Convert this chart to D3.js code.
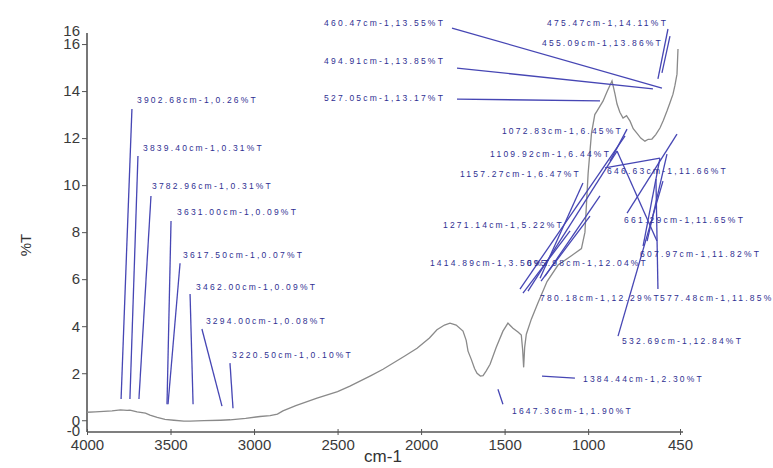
<!DOCTYPE html>
<html>
<head>
  <meta charset="UTF-8">
  <title>FTIR spectrum</title>
  <style>
    body{
        margin: 0;
        background-color: #ffffff;
    }
    .tick text{
        font-family: "Liberation Sans", Arial, sans-serif;
        font-size: 15px;
        fill: #3a3a3a;
    }
    .peak{
        font-family: "Liberation Sans", Arial, sans-serif;
        font-size: 8.5px;
        fill: #2f2f92;
    }
  </style>
</head>
<body>
<svg></svg>
<script src="https://d3js.org/d3.v7.min.js"></script>

<script>

// spectrum
const wavenumber = [4000, 3950, 3900, 3850, 3800, 3760, 3743, 3700, 3650, 3623, 3580, 3533, 3480, 3420, 3383,
    3300, 3200, 3144, 3050, 2964, 2904, 2860, 2827, 2750, 2623, 2500, 2426, 2300, 2228, 2100, 2024, 1950,
    1905, 1860, 1827, 1790, 1749, 1730, 1719, 1700, 1680, 1665, 1645, 1629, 1610, 1587, 1550, 1510, 1480,
    1450, 1420, 1400, 1392, 1386, 1380, 1370, 1340, 1300, 1246, 1180, 1100, 1040, 1019, 1000, 980, 960,
    947, 930, 911, 885, 857, 840, 827, 810, 791, 770, 749, 730, 707, 685, 660, 640, 618, 595, 570, 550,
    528, 510, 492, 480, 468, 462];
const transmittance = [0.34, 0.36, 0.38, 0.40, 0.44, 0.42, 0.43, 0.36, 0.30, 0.22, 0.12, 0.04, 0.00, -0.04, -0.04,
    -0.02, 0.00, 0.02, 0.08, 0.16, 0.20, 0.26, 0.40, 0.62, 0.94, 1.22, 1.45, 1.90, 2.17, 2.72, 3.06, 3.50,
    3.85, 4.05, 4.13, 4.05, 3.79, 3.40, 2.94, 2.60, 2.20, 2.00, 1.88, 1.90, 2.10, 2.38, 3.10, 3.79, 4.13,
    3.91, 3.75, 3.62, 3.00, 2.25, 3.10, 3.66, 4.30, 5.00, 5.90, 6.60, 7.00, 7.30, 8.00, 10.5, 12.2, 13.0,
    13.15, 13.35, 13.57, 14.00, 14.43, 13.90, 13.45, 13.10, 12.85, 12.95, 12.72, 12.40, 12.20, 12.00, 11.87, 11.95, 11.96, 12.15, 12.43, 12.75,
    13.15, 13.50, 13.87, 14.25, 14.72, 15.79];

const xTicks = [4000, 3500, 3000, 2500, 2000, 1500, 1000, 450];
const yTicks = [0, 2, 4, 6, 8, 10, 12, 14, 16];

// peak labels: text, anchor wavenumber, anchor %T
const labelText = ["3902.68cm-1,0.26%T", "3839.40cm-1,0.31%T", "3782.96cm-1,0.31%T", "3631.00cm-1,0.09%T",
    "3617.50cm-1,0.07%T", "3462.00cm-1,0.09%T", "3294.00cm-1,0.08%T", "3220.50cm-1,0.10%T",
    "460.47cm-1,13.55%T", "494.91cm-1,13.85%T", "527.05cm-1,13.17%T", "475.47cm-1,14.11%T",
    "455.09cm-1,13.86%T", "1072.83cm-1,6.45%T", "1109.92cm-1,6.44%T", "1157.27cm-1,6.47%T",
    "646.63cm-1,11.66%T", "1271.14cm-1,5.22%T", "661.29cm-1,11.65%T", "1414.89cm-1,3.50%T",
    "695.98cm-1,12.04%T", "607.97cm-1,11.82%T", "780.18cm-1,12.29%T", "577.48cm-1,11.85%T",
    "532.69cm-1,12.84%T", "1384.44cm-1,2.30%T", "1647.36cm-1,1.90%T"];
const labelCm = [3701, 3665, 3611, 3461, 3425, 3347, 3288, 3132,
    2581, 2581, 2581, 1246, 1276, 1516, 1587, 1767,
    887, 1869, 785, 1947, 1366, 689, 1288, 570,
    797, 1031, 1456];
const labelT = [13.62, 11.58, 9.96, 8.86, 7.03, 5.66, 4.22, 2.77,
    16.90, 15.28, 13.71, 16.90, 16.05, 12.30, 11.32, 10.47,
    10.60, 8.30, 8.51, 6.68, 6.68, 7.07, 5.20, 5.20,
    3.37, 1.75, 0.39];

// leader lines: [cm1, %T1, cm2, %T2]
const leaderLines = [
    [3731, 13.24, 3796, 0.90], [3695, 11.24, 3743, 0.90], [3617, 9.54, 3689, 0.90], [3497, 8.47, 3521, 0.68],
    [3443, 6.68, 3515, 0.68], [3383, 5.37, 3365, 0.68], [3312, 3.88, 3192, 0.60], [3144, 2.43, 3126, 0.51],
    [1815, 16.68, 558, 14.13], [1785, 14.98, 612, 14.09], [1785, 13.66, 929, 13.58], [522, 16.64, 582, 14.52],
    [510, 16.34, 558, 14.77], [779, 12.09, 1408, 5.58], [827, 11.45, 1360, 5.49], [1031, 10.09, 1288, 6.04],
    [899, 10.73, 570, 11.15], [929, 9.54, 1258, 6.13], [468, 12.17, 767, 8.81], [1108, 8.05, 1390, 5.41],
    [827, 11.45, 588, 7.62], [570, 11.15, 671, 7.41], [1282, 5.92, 989, 8.68], [582, 5.58, 594, 10.26],
    [821, 3.58, 552, 10.17], [1276, 1.88, 1079, 1.79], [1540, 1.32, 1510, 0.68],
    [528, 11.32, 647, 7.62], [869, 11.02, 767, 12.38]
];

let width = 773, height = 468;

let svg = d3.select("svg")
    .attr("width", width)
    .attr("height", height);

let x = d3.scaleLinear()
    .domain([4000, 450])
    .range([87, 680]);

let y = d3.scaleLinear()
    .domain([-0.5, 16.47])
    .range([432, 33]);

// axes
let gx = svg.append("g")
    .attr("transform", "translate(0," + y.range()[0] + ")")
    .call(d3.axisBottom(x).tickValues(xTicks).tickSize(3).tickPadding(4).tickFormat(d3.format("d")));
gx.selectAll(".tick line").attr("y1", -3).attr("y2", 3).attr("stroke", "#555");
gx.select(".domain").attr("stroke", "#555").attr("stroke-width", 1.6).attr("d", "M" + x.range()[0] + ",0H" + (x.range()[1] + 3));

let gy = svg.append("g")
    .attr("transform", "translate(" + x.range()[0] + ",0)")
    .call(d3.axisLeft(y).tickValues(yTicks).tickSize(5).tickPadding(2));
gy.selectAll(".tick line").attr("stroke", "#555");
gy.select(".domain").attr("stroke", "#555").attr("stroke-width", 1.6)
    .attr("d", "M0," + y.range()[0] + "V" + y.range()[1]);

// end labels of the y axis
gy.append("text")
    .attr("x", -7).attr("y", y(y.domain()[1]) - 2)
    .attr("dy", "0.32em")
    .attr("text-anchor", "end")
    .style("font-family", "Liberation Sans, Arial, sans-serif")
    .style("font-size", "15px").style("fill", "#3a3a3a")
    .text("16");
gy.append("text")
    .attr("x", -7).attr("y", y(y.domain()[0]) - 1)
    .attr("dy", "0.32em")
    .attr("text-anchor", "end")
    .style("font-family", "Liberation Sans, Arial, sans-serif")
    .style("font-size", "15px").style("fill", "#3a3a3a")
    .text("-0");

svg.append("text")
    .attr("x", 383).attr("y", 462)
    .attr("text-anchor", "middle")
    .style("font-family", "Liberation Sans, Arial, sans-serif")
    .style("font-size", "17px").style("fill", "#333")
    .text("cm-1");

svg.append("text")
    .attr("transform", "translate(31,245) rotate(-90)")
    .attr("text-anchor", "middle")
    .style("font-family", "Liberation Sans, Arial, sans-serif")
    .style("font-size", "15px").style("fill", "#333")
    .text("%T");

// spectrum trace
let line = d3.line()
    .x((d, i) => x(wavenumber[i]))
    .y(d => y(d));

svg.append("path")
    .datum(transmittance)
    .attr("fill", "none")
    .attr("stroke", "#8a8a8a")
    .attr("stroke-width", 1.3)
    .attr("d", line);

// leader lines
svg.append("g")
    .selectAll("line")
    .data(leaderLines)
    .enter()
    .append("line")
    .attr("x1", d => x(d[0]))
    .attr("y1", d => y(d[1]))
    .attr("x2", d => x(d[2]))
    .attr("y2", d => y(d[3]))
    .attr("stroke", "#4646b4")
    .attr("stroke-width", 1.3);

// peak labels (the last one on the right runs past the edge, as in the original)
svg.append("g")
    .selectAll("text")
    .data(labelText)
    .enter()
    .append("text")
    .attr("class", "peak")
    .attr("x", (d, i) => x(labelCm[i]))
    .attr("y", (d, i) => y(labelT[i]))
    .attr("dy", "0.35em")
    .attr("textLength", d => d.length * 6.6)
    .attr("lengthAdjust", "spacing")
    .text(d => d);

</script>

</body>
</html>
